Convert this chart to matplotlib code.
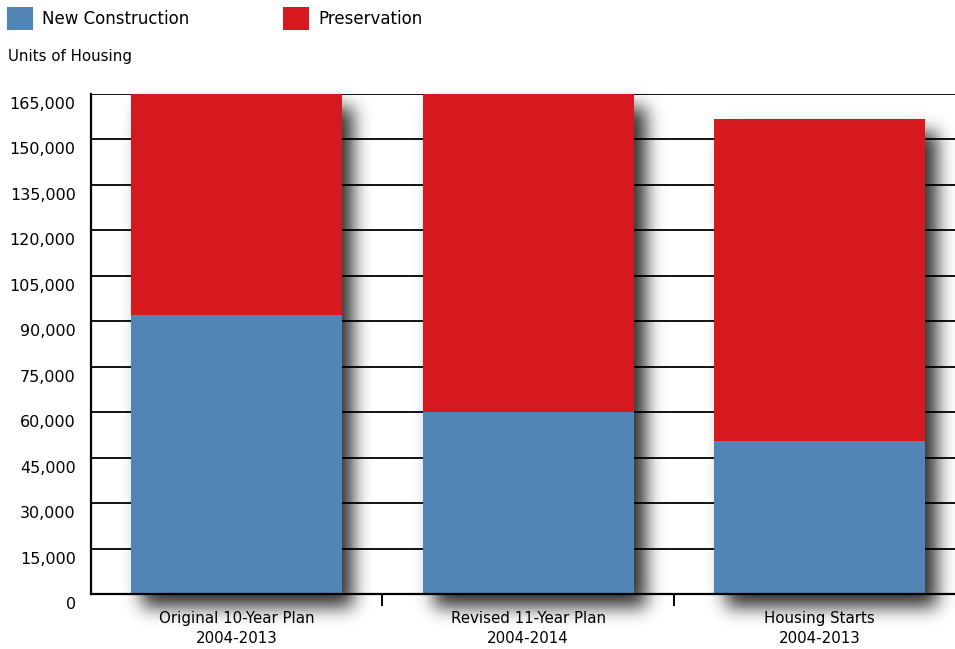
import matplotlib
matplotlib.use("Agg")
import numpy as np
import matplotlib.pyplot as plt
from matplotlib.patches import Rectangle
from matplotlib.transforms import ScaledTranslation

# data
categories = ["Original 10-Year Plan\n2004-2013",
              "Revised 11-Year Plan\n2004-2014",
              "Housing Starts\n2004-2013"]
new_construction = [92000, 60000, 50500]
preservation = [73000, 105000, 106400]
y_ticks = list(range(0, 165001, 15000))

blue = "#5085B5"
red = "#D6191F"

W, H = 955, 649
fig = plt.figure(figsize=(W / 100, H / 100), dpi=100)
ax_l, ax_r, ax_t, ax_b = 91, 955, 94, 594
ax = fig.add_axes([ax_l / W, (H - ax_b) / H, (ax_r - ax_l) / W, (ax_b - ax_t) / H])

xlim = (-0.5, 2.465)
ylim = (0, 165000)
ax.set_xlim(*xlim)
ax.set_ylim(*ylim)

# gridlines under the shadows
for t in y_ticks[1:]:
    ax.axhline(t, color="black", lw=1.3, zorder=0.5)

bar_w = 0.724
xs = list(range(len(categories)))

# blurred drop shadow, built as a pixel image
off_x, off_y, sigma = 11, 13, 9
mask = np.zeros((H, W))
for x, nc, pr in zip(xs, new_construction, preservation):
    total = min(nc + pr, ylim[1])
    (px0, py0), (px1, py1) = ax.transData.transform([(x - bar_w / 2, 0), (x + bar_w / 2, total)])
    c0, c1 = int(round(px0 + off_x)), int(round(px1 + off_x))
    r0, r1 = int(round(H - py1 + off_y)), int(round(H - py0 + off_y))
    mask[max(r0, 0):min(r1, H), max(c0, 0):min(c1, W)] = 1.0
k = np.arange(-36, 37)
kern = np.exp(-0.5 * (k / sigma) ** 2)
kern /= kern.sum()
blurred = np.apply_along_axis(lambda v: np.convolve(v, kern, mode="same"), 0, mask)
blurred = np.apply_along_axis(lambda v: np.convolve(v, kern, mode="same"), 1, blurred)
shadow = np.zeros((H, W, 4))
shadow[..., 3] = 0.82 * blurred
inv = ax.transData.inverted()
(fx0, fy0), (fx1, fy1) = inv.transform([(0, 0), (W, H)])
im = ax.imshow(shadow, extent=(fx0, fx1, fy0, fy1), origin="upper",
               aspect="auto", interpolation="nearest", zorder=1)
im.set_clip_on(False)
ax.set_xlim(*xlim)
ax.set_ylim(*ylim)

ax.bar(xs, new_construction, width=bar_w, color=blue, zorder=2)
ax.bar(xs, preservation, width=bar_w, bottom=new_construction, color=red, zorder=2)

for side in ["top", "right"]:
    ax.spines[side].set_visible(False)
for side in ["left", "bottom"]:
    ax.spines[side].set_linewidth(1.6)
    ax.spines[side].set_zorder(3)

ax.set_yticks(y_ticks)
ax.set_yticklabels([f"{t:,}" for t in y_ticks], fontsize=11.5)
ax.tick_params(axis="y", length=0, pad=11)
shift = ScaledTranslation(0, -0.09, fig.dpi_scale_trans)
for lab in ax.get_yticklabels():
    lab.set_transform(lab.get_transform() + shift)

ax.set_xticks(xs)
ax.set_xticklabels(categories, fontsize=10.8, linespacing=1.42)
ax.tick_params(axis="x", which="major", length=0, pad=12)
ax.set_xticks([0.5, 1.5], minor=True)
ax.tick_params(axis="x", which="minor", length=8.5, width=1.4, color="black",
               direction="out")
ax.xaxis.set_zorder(3)
ax.yaxis.set_zorder(3)

# legend and axis caption at the top
fig.add_artist(Rectangle((7 / W, 1 - 30 / H), 26 / W, 23 / H,
                         transform=fig.transFigure, facecolor=blue, edgecolor="none"))
fig.text(42 / W, 1 - 19 / H, "New Construction", fontsize=12, va="center")
fig.add_artist(Rectangle((283 / W, 1 - 30 / H), 26 / W, 23 / H,
                         transform=fig.transFigure, facecolor=red, edgecolor="none"))
fig.text(318 / W, 1 - 19 / H, "Preservation", fontsize=12, va="center")
fig.text(8 / W, 1 - 57 / H, "Units of Housing", fontsize=10.8, va="center")

fig.savefig("out.png", dpi=100)
